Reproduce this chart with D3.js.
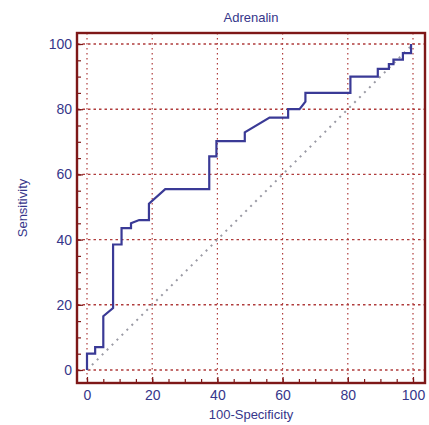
<!DOCTYPE html>
<html>
<head>
<meta charset="utf-8">
<script src="https://cdn.jsdelivr.net/npm/d3@7"></script>
<style>
  body { margin: 0; background: #fff; }
  text { font-family: "Liberation Sans", Arial, sans-serif; }
</style>
</head>
<body>
<div id="chart"></div>
<script>

///////////////////////////////////////////////////////////////////////////
/////////////////////////////////// Data //////////////////////////////////
///////////////////////////////////////////////////////////////////////////

var chartTitle = "Adrenalin";
var xLabel = "100-Specificity";
var yLabel = "Sensitivity";
var majorTicks = [0, 20, 40, 60, 80, 100];

//ROC curve vertices (100-Specificity, Sensitivity)
var rocX = [0, 0, 2.5, 2.5, 5, 5, 8, 8, 10.6, 10.6, 13.5, 13.5, 16, 19, 19, 24, 37.5, 37.5, 39.7, 39.7,
            48.4, 48.4, 56, 61.7, 61.7, 65.2, 67, 67, 80.8, 80.8, 89.2, 89.2, 92.6, 92.6, 94, 94,
            96.9, 96.9, 99.4, 99.4];
var rocY = [0, 5, 5, 7, 7, 16.5, 19, 38.5, 38.5, 43.5, 43.5, 45, 46, 46, 51, 55.5, 55.5, 65.5, 65.5, 70.2,
            70.2, 72.9, 77.4, 77.4, 80, 80, 82.3, 85, 85, 90, 90, 92.4, 92.4, 93.8, 93.8, 95.2,
            95.2, 97.2, 97.2, 100];

//Reference diagonal
var diagX = [0, 100];
var diagY = [0, 100];

///////////////////////////////////////////////////////////////////////////
//////////////////////////// Set up the svg ///////////////////////////////
///////////////////////////////////////////////////////////////////////////

var width = 429, height = 425;

var frame = { left: 77, top: 33, right: 425, bottom: 383 };

var svg = d3.select("#chart").append("svg")
	.attr("width", width)
	.attr("height", height);

var x = d3.scaleLinear().domain([0, 100]).range([87, 413]);
var y = d3.scaleLinear().domain([0, 100]).range([370, 44]);

var frameColor = "#7e1818",
	gridColor = "#b03c3c",
	textColor = "#36368a",
	curveColor = "#3a3a96";

///////////////////////////////////////////////////////////////////////////
/////////////////////////////// Grid lines ////////////////////////////////
///////////////////////////////////////////////////////////////////////////

var grid = svg.append("g").attr("class", "grid");

grid.selectAll(".vgrid")
	.data(majorTicks)
	.enter().append("line")
	.attr("x1", function(d) { return x(d); })
	.attr("x2", function(d) { return x(d); })
	.attr("y1", frame.top)
	.attr("y2", frame.bottom)
	.style("stroke", gridColor)
	.style("stroke-width", 1.2)
	.style("stroke-dasharray", "1.5,3.5");

grid.selectAll(".hgrid")
	.data(majorTicks)
	.enter().append("line")
	.attr("x1", frame.left)
	.attr("x2", frame.right)
	.attr("y1", function(d) { return y(d); })
	.attr("y2", function(d) { return y(d); })
	.style("stroke", gridColor)
	.style("stroke-width", 1.4)
	.style("stroke-dasharray", "2.5,3");

///////////////////////////////////////////////////////////////////////////
//////////////////////////////// Lines ////////////////////////////////////
///////////////////////////////////////////////////////////////////////////

var line = d3.line()
	.x(function(d) { return x(d[0]); })
	.y(function(d) { return y(d[1]); });

svg.append("path")
	.datum(d3.zip(diagX, diagY))
	.attr("d", line)
	.style("fill", "none")
	.style("stroke", "#9a9aa4")
	.style("stroke-width", 2)
	.style("stroke-dasharray", "2,5");

svg.append("path")
	.datum(d3.zip(rocX, rocY))
	.attr("d", line)
	.style("fill", "none")
	.style("stroke", curveColor)
	.style("stroke-width", 2.2);

///////////////////////////////////////////////////////////////////////////
///////////////////////////////// Axes ////////////////////////////////////
///////////////////////////////////////////////////////////////////////////

//Minor ticks every 5
var minorTicks = d3.range(0, 101, 5);

var xMinor = svg.append("g")
	.attr("transform", "translate(0," + frame.bottom + ")")
	.call(d3.axisBottom(x).tickValues(minorTicks).tickSize(-4).tickFormat(""));

var yMinor = svg.append("g")
	.attr("transform", "translate(" + frame.left + ",0)")
	.call(d3.axisLeft(y).tickValues(minorTicks).tickSize(-4).tickFormat(""));

var xAxis = svg.append("g")
	.attr("transform", "translate(0," + frame.bottom + ")")
	.call(d3.axisBottom(x).tickValues(majorTicks).tickSize(-6).tickPadding(7));

var yAxis = svg.append("g")
	.attr("transform", "translate(" + frame.left + ",0)")
	.call(d3.axisLeft(y).tickValues(majorTicks).tickSize(-6).tickPadding(5));

[xMinor, yMinor, xAxis, yAxis].forEach(function(g) {
	g.select(".domain").remove();
	g.selectAll(".tick line").style("stroke", frameColor).style("stroke-width", 1.2);
	g.selectAll(".tick text")
		.style("fill", textColor)
		.style("font-size", "14px")
		.style("font-family", "'Liberation Sans', Arial, sans-serif");
});

//Frame
svg.append("rect")
	.attr("x", frame.left)
	.attr("y", frame.top)
	.attr("width", frame.right - frame.left)
	.attr("height", frame.bottom - frame.top)
	.style("fill", "none")
	.style("stroke", frameColor)
	.style("stroke-width", 2.4);

///////////////////////////////////////////////////////////////////////////
//////////////////////////////// Labels ///////////////////////////////////
///////////////////////////////////////////////////////////////////////////

svg.append("text")
	.attr("x", (frame.left + frame.right) / 2)
	.attr("y", 22)
	.attr("text-anchor", "middle")
	.style("fill", textColor)
	.style("font-size", "13px")
	.text(chartTitle);

svg.append("text")
	.attr("x", (frame.left + frame.right) / 2)
	.attr("y", 419)
	.attr("text-anchor", "middle")
	.style("fill", textColor)
	.style("font-size", "13px")
	.text(xLabel);

svg.append("text")
	.attr("transform", "translate(27," + ((frame.top + frame.bottom) / 2) + ")rotate(-90)")
	.attr("text-anchor", "middle")
	.style("fill", textColor)
	.style("font-size", "13px")
	.text(yLabel);

</script>
</body>
</html>
